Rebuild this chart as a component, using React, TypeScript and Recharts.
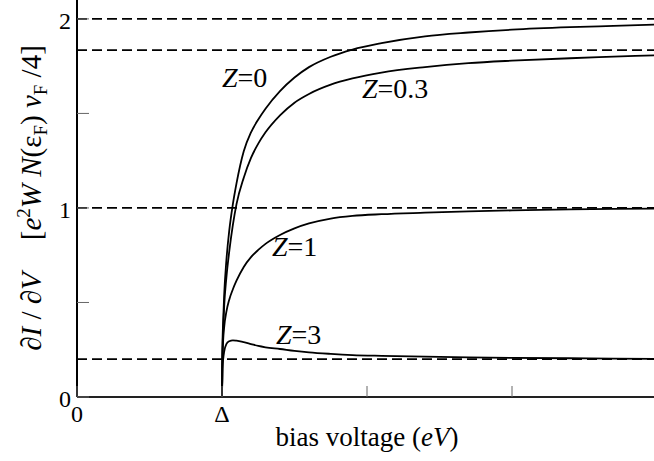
import { LineChart, Line, XAxis, YAxis, ReferenceLine, Customized } from "recharts";

// bias voltage in units of the gap Δ
const biasPoints = [0, 1, 1.003, 1.008, 1.015, 1.03, 1.05, 1.075, 1.1, 1.15, 1.2, 1.25, 1.3, 1.4, 1.5, 1.6, 1.75, 1.9, 2.1, 2.4, 2.7, 3.0, 3.4, 3.7, 4.0];

const condZ0 = [0, 0, 0.26, 0.4, 0.54, 0.72, 0.88, 1.02, 1.13, 1.3, 1.4, 1.468, 1.525, 1.618, 1.69, 1.745, 1.8, 1.838, 1.872, 1.908, 1.928, 1.943, 1.956, 1.963, 1.97];
const condZ03 = [0, 0, 0.22, 0.35, 0.48, 0.63, 0.77, 0.91, 1.02, 1.16, 1.265, 1.34, 1.4, 1.49, 1.557, 1.603, 1.652, 1.685, 1.716, 1.745, 1.766, 1.779, 1.792, 1.8, 1.808];
const condZ1 = [0, 0, 0.19, 0.3, 0.37, 0.45, 0.515, 0.57, 0.615, 0.688, 0.74, 0.778, 0.81, 0.857, 0.892, 0.918, 0.944, 0.958, 0.967, 0.975, 0.982, 0.987, 0.992, 0.995, 0.997];
const condZ3 = [0, 0, 0.15, 0.2, 0.24, 0.28, 0.295, 0.3, 0.298, 0.29, 0.28, 0.27, 0.263, 0.254, 0.244, 0.236, 0.228, 0.222, 0.218, 0.214, 0.21, 0.207, 0.205, 0.203, 0.202];

// dashed asymptotes
const limits = [2, 1.835, 1, 0.2];

const xTicks = [0, 1, 2, 3, 4];
const xTickLabels = ["0", "Δ", "", "", ""];
const yTicks = [0, 0.5, 1, 1.5, 2];
const yTickLabels = ["0", "", "1", "", "2"];

const data = biasPoints.map((x, i) => ({
  x,
  z0: condZ0[i],
  z03: condZ03[i],
  z1: condZ1[i],
  z3: condZ3[i],
}));

const FONT = '"Liberation Serif", "DejaVu Serif", serif';

const BottomTick = (props: any) => {
  const { x, y, payload } = props;
  const i = xTicks.indexOf(payload.value);
  return (
    <g>
      <line x1={x} x2={x} y1={y} y2={y - 11} stroke="#666" strokeWidth={1} />
      <text x={x} y={y + 25} textAnchor="middle" style={{ fontFamily: FONT }} fontSize={24} fill="#000">
        {xTickLabels[i]}
      </text>
    </g>
  );
};

const TopTick = (props: any) => {
  const { x, y } = props;
  return <line x1={x} x2={x} y1={y} y2={y + 11} stroke="#666" strokeWidth={1} />;
};

const LeftTick = (props: any) => {
  const { x, y, payload } = props;
  const i = yTicks.indexOf(payload.value);
  return (
    <g>
      <line x1={x} x2={x + 12} y1={y} y2={y} stroke="#666" strokeWidth={1} />
      <text x={x - 6} y={y + 2} textAnchor="end" dominantBaseline="central" style={{ fontFamily: FONT }} fontSize={24} fill="#000">
        {yTickLabels[i]}
      </text>
    </g>
  );
};

const RightTick = (props: any) => {
  const { x, y } = props;
  return <line x1={x} x2={x - 12} y1={y} y2={y} stroke="#666" strokeWidth={1} />;
};

const Annotations = () => (
  <g style={{ fontFamily: FONT }} fill="#000">
    <text x={222} y={87} fontSize={28}>
      <tspan fontStyle="italic">Z</tspan>=0
    </text>
    <text x={362} y={98} fontSize={28}>
      <tspan fontStyle="italic">Z</tspan>=0.3
    </text>
    <text x={272} y={256} fontSize={28}>
      <tspan fontStyle="italic">Z</tspan>=1
    </text>
    <text x={276} y={344} fontSize={28}>
      <tspan fontStyle="italic">Z</tspan>=3
    </text>
    <text x={367} y={446} textAnchor="middle" fontSize={27}>
      bias voltage (<tspan fontStyle="italic">eV</tspan>)
    </text>
    <text x={41} y={198} textAnchor="middle" fontSize={29} transform="rotate(-90, 41, 198)">
      ∂<tspan fontStyle="italic">I</tspan> / ∂<tspan fontStyle="italic">V</tspan>
      <tspan dx={32}>[</tspan>
      <tspan fontStyle="italic">e</tspan>
      <tspan dy={-11} fontSize={19}>2</tspan>
      <tspan dy={11} fontStyle="italic">W N</tspan>
      <tspan>(ε</tspan>
      <tspan dy={6} fontSize={19}>F</tspan>
      <tspan dy={-6}>) </tspan>
      <tspan fontStyle="italic">v</tspan>
      <tspan dy={6} fontSize={19}>F</tspan>
      <tspan dy={-6}> /4]</tspan>
    </text>
  </g>
);

export default function App() {
  return (
    <div style={{ position: "absolute", left: 0, top: 0, width: 654, height: 461, overflow: "hidden", background: "#fff" }}>
      <LineChart width={657} height={461} data={data} margin={{ top: 0, right: 0, left: 7, bottom: 0 }}>
        <XAxis
          xAxisId="bottom"
          dataKey="x"
          type="number"
          domain={[0, 4]}
          ticks={xTicks}
          height={64}
          tickSize={0}
          tickMargin={0}
          tickLine={false}
          axisLine={{ stroke: "#222", strokeWidth: 2 }}
          tick={<BottomTick />}
          interval={0}
        />
        <XAxis
          xAxisId="top"
          orientation="top"
          dataKey="x"
          type="number"
          domain={[0, 4]}
          ticks={xTicks}
          height={0}
          tickSize={0}
          tickMargin={0}
          tickLine={false}
          axisLine={{ stroke: "#666", strokeWidth: 2 }}
          tick={<TopTick />}
          interval={0}
        />
        <YAxis
          yAxisId="left"
          type="number"
          domain={[0, 2.1]}
          ticks={yTicks}
          width={70}
          tickSize={0}
          tickMargin={0}
          tickLine={false}
          axisLine={{ stroke: "#000", strokeWidth: 2 }}
          tick={<LeftTick />}
          interval={0}
        />
        <YAxis
          yAxisId="right"
          orientation="right"
          type="number"
          domain={[0, 2.1]}
          ticks={yTicks}
          width={0}
          tickSize={0}
          tickMargin={0}
          tickLine={false}
          axisLine={{ stroke: "#666", strokeWidth: 1 }}
          tick={<RightTick />}
          interval={0}
        />
        {limits.map((v) => (
          <ReferenceLine
            key={v}
            xAxisId="bottom"
            yAxisId="left"
            y={v}
            stroke="#000"
            strokeWidth={1.7}
            strokeDasharray="10 5"
          />
        ))}
        <Line xAxisId="bottom" yAxisId="left" type="monotone" dataKey="z0" stroke="#000" strokeWidth={1.8} dot={false} isAnimationActive={false} />
        <Line xAxisId="bottom" yAxisId="left" type="monotone" dataKey="z03" stroke="#000" strokeWidth={1.8} dot={false} isAnimationActive={false} />
        <Line xAxisId="bottom" yAxisId="left" type="monotone" dataKey="z1" stroke="#000" strokeWidth={1.8} dot={false} isAnimationActive={false} />
        <Line xAxisId="bottom" yAxisId="left" type="monotone" dataKey="z3" stroke="#000" strokeWidth={1.8} dot={false} isAnimationActive={false} />
        <Customized component={Annotations} />
      </LineChart>
    </div>
  );
}
